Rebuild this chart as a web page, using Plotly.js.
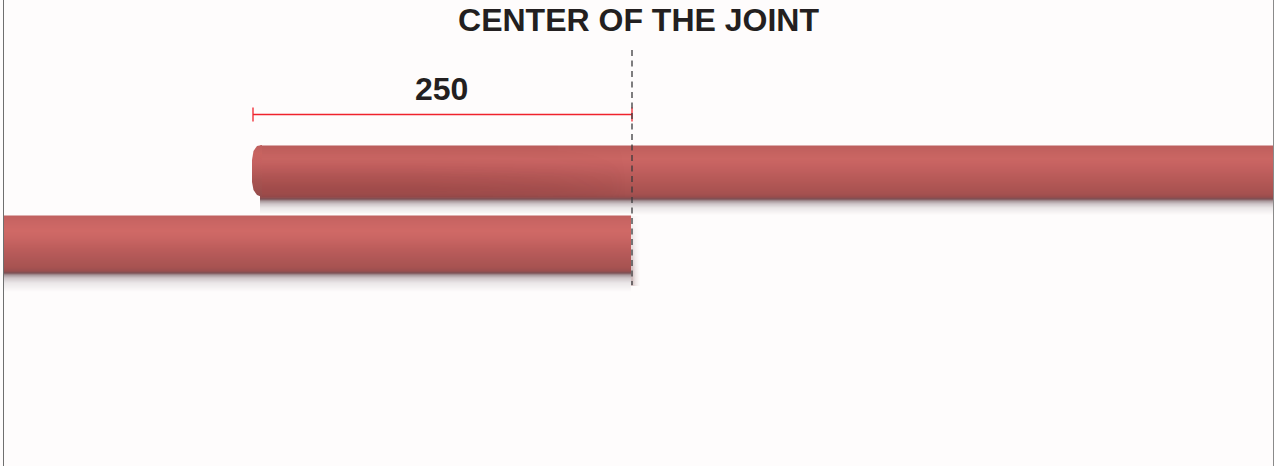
<!DOCTYPE html>
<html><head><meta charset="utf-8">
<script src="https://cdn.plot.ly/plotly-3.0.1.min.js"></script>
<style>html,body{margin:0;padding:0;background:#fff}</style></head>
<body><div id="chart" style="width:1274px;height:466px"></div>
<script>
const titleText = "CENTER OF THE JOINT";
const dimLabel = "250";
const dimX = [253, 632];
const dimY = [114.5, 114.5];
const dimTickY = [107.5, 121.5];
const centerX = [632, 632];
const centerY = [50, 285];
const frameY = [0, 466];
const frameLeftX = [3.5, 3.5];
const frameRightX = [1273.5, 1273.5];

const upperXEdges = [260, 700, 1274];
const upperY = [144, 145, 150, 158, 166, 176, 186, 193, 196, 198, 200, 203, 207, 214];
const upperColors = ["#fefcfc", "#bd5f5e", "#c4625f", "#cb6663", "#c46160", "#b95b59", "#ae5553", "#a65150", "#984d4d", "#7c5055", "#a8979b", "#cfc6c9", "#ebe7e8", "#fefcfc"];

const lowerXEdges = [4, 300, 631];
const lowerY = [214, 215, 220, 230, 238, 248, 258, 266, 270, 272, 274, 277, 282, 291];
const lowerColors = ["#fefcfc", "#c06160", "#c96563", "#d06966", "#c96563", "#bc5d5b", "#b05756", "#a85351", "#9a4f4f", "#7c5055", "#a8979b", "#cfc6c9", "#ebe7e8", "#fefcfc"];

const overlayXEdges = [260, 340, 500, 610, 640];
const overlayYEdges = [145, 155, 170, 183, 193, 197];
const overlayZ = [
  [0.01, 0.01, 0.01, 0],
  [0.03, 0.03, 0.02, 0],
  [0.10, 0.10, 0.07, 0],
  [0.13, 0.13, 0.09, 0],
  [0.09, 0.09, 0.06, 0]
];

const capX = [262, 257, 253.5, 252, 252, 253.5, 257, 262];
const capY = [145, 146, 151, 160, 182, 190, 195, 197];
const capColors = ["#934b4b", "#a04f4d", "#a95351", "#b85a58", "#c56160", "#c8635f", "#bd5f5e"];

const sideShadeXEdges = [631, 633, 637, 642];
const sideShadeYEdges = [216, 232, 260, 286];
const sideShadeZ = [[0.05, 0.02, 0], [0.14, 0.05, 0], [0.28, 0.1, 0]];

function stops(colors) {
  return colors.map((c, i) => [i / (colors.length - 1), c]);
}
function band(xEdges, y, colors) {
  return {
    type: "heatmap", x: xEdges, y: y,
    z: y.map((_, i) => xEdges.slice(1).map(() => i)),
    zmin: 0, zmax: colors.length - 1,
    colorscale: stops(colors), showscale: false, zsmooth: "best", hoverinfo: "skip"
  };
}
function veil(x, y, z) {
  return {
    type: "heatmap", x: x, y: y, z: z, zmin: 0, zmax: 0.3,
    colorscale: [[0, "rgba(90,25,28,0)"], [1, "rgba(90,25,28,0.3)"]],
    showscale: false, zsmooth: "best", hoverinfo: "skip"
  };
}
function line(x, y, color, width, dash) {
  return {
    type: "scatter", mode: "lines", x: x, y: y, hoverinfo: "skip",
    line: { color: color, width: width, dash: dash || "solid" }
  };
}

const traces = [
  band(upperXEdges, upperY, upperColors),
  band(lowerXEdges, lowerY, lowerColors),
  veil(overlayXEdges, overlayYEdges, overlayZ),
  veil(sideShadeXEdges, sideShadeYEdges, sideShadeZ),
  {
    type: "scatter", mode: "lines", x: capX, y: capY, fill: "toself", hoverinfo: "skip",
    line: { width: 0, color: "rgba(0,0,0,0)" },
    fillgradient: { type: "vertical", colorscale: stops(capColors) }
  },
  line(frameLeftX, frameY, "#6f6f6f", 1),
  line(frameRightX, frameY, "#8a8a8a", 1),
  line(dimX, dimY, "#f0222c", 1.3),
  line([dimX[0], dimX[0]], dimTickY, "#f0222c", 1.3),
  line([dimX[1], dimX[1]], dimTickY, "#f0222c", 1.3),
  line(centerX, centerY, "#3a3a3c", 1.3, "6px,4.5px")
];

const layout = {
  width: 1274, height: 466,
  margin: { l: 0, r: 0, t: 0, b: 0, pad: 0 },
  paper_bgcolor: "#fefcfc", plot_bgcolor: "#fefcfc",
  showlegend: false,
  title: {
    text: titleText, x: 638.5 / 1274, y: 1 - 20 / 466,
    xanchor: "center", yanchor: "middle",
    font: { family: "Liberation Sans", size: 32, weight: 700, color: "#231f20" }
  },
  xaxis: { range: [0, 1274], visible: false, fixedrange: true },
  yaxis: { range: [466, 0], visible: false, fixedrange: true },
  annotations: [{
    text: dimLabel, x: 441.5, y: 88.5, xref: "x", yref: "y", showarrow: false,
    xanchor: "center", yanchor: "middle",
    font: { family: "Liberation Sans", size: 32, weight: 700, color: "#231f20" }
  }]
};
Plotly.newPlot("chart", traces, layout, { staticPlot: true, displayModeBar: false });
</script></body></html>
